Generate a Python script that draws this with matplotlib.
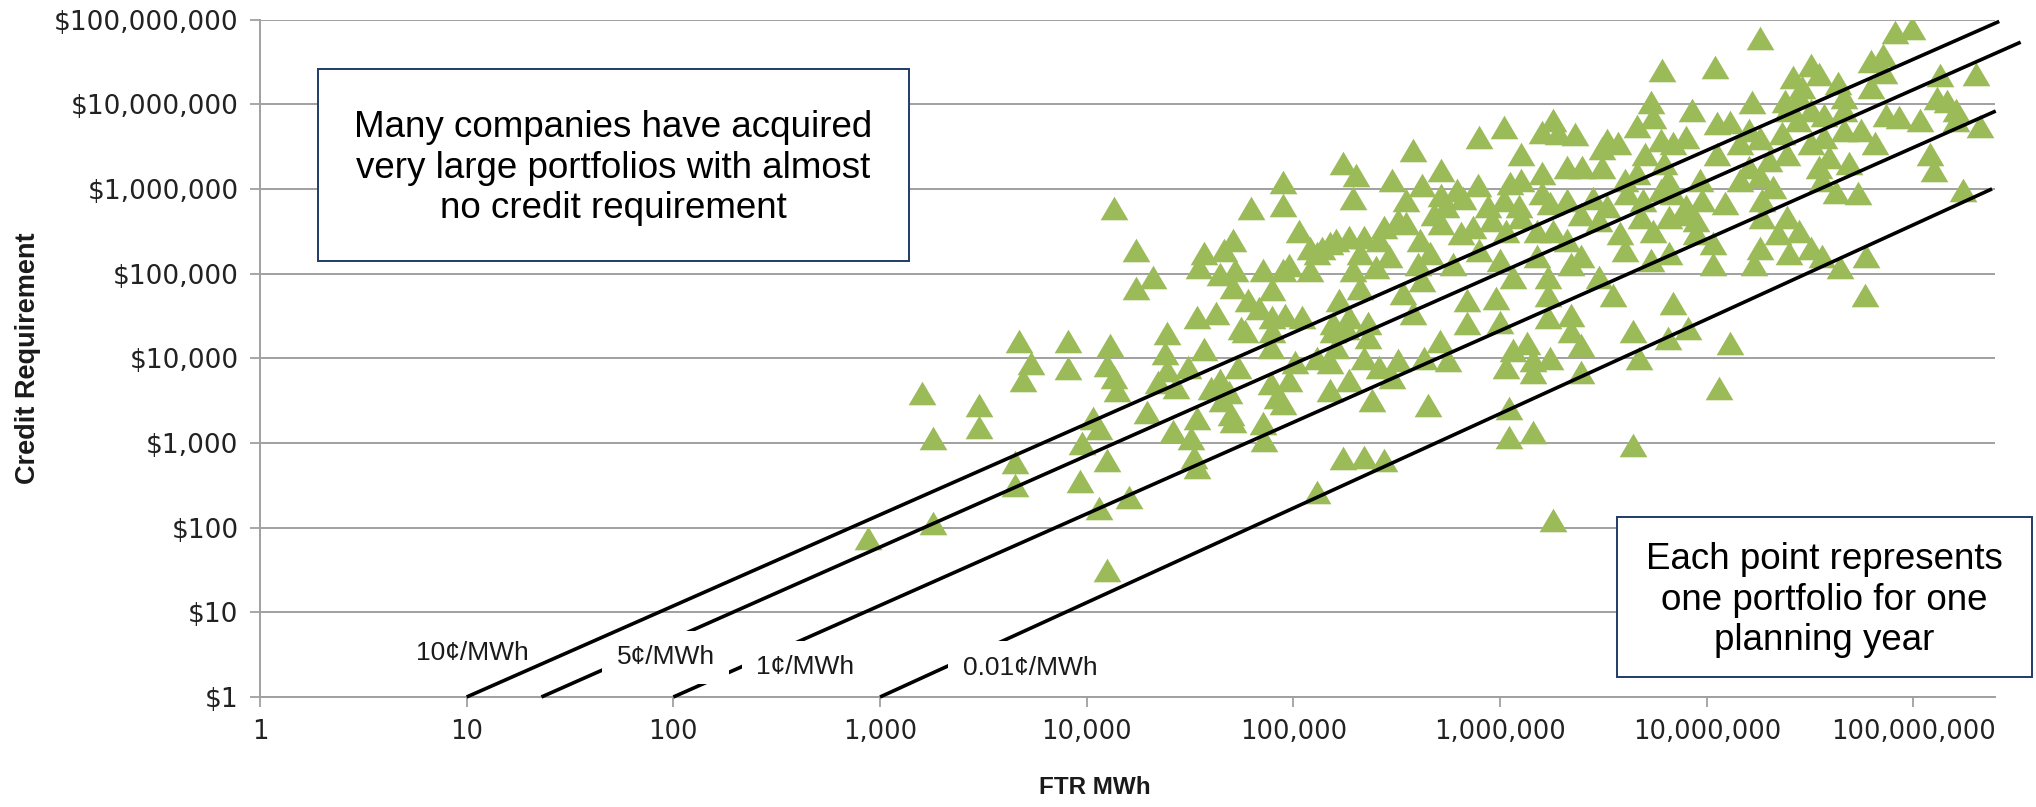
import numpy as np
import matplotlib.pyplot as plt
from matplotlib.patches import Rectangle
from matplotlib.ticker import FixedLocator, NullLocator

# each point = one portfolio for one planning year (FTR MWh, credit requirement $)
ftr_mwh = [
    # small portfolios (< 20,000 MWh)
    4.7e3, 8.1e3, 1.3e4, 5.4e3, 4.9e3, 8.1e3, 1.26e4, 1.35e4, 1.4e4, 1.6e3,
    3.0e3, 3.0e3, 1.8e3, 1.07e4, 1.15e4, 9.5e3, 4.5e3, 4.5e3, 1.26e4, 9.3e3,
    1.15e4, 1.6e4, 1.8e3, 870, 1.26e4, 1.35e4,
    # 20,000 - 500,000 MWh, upper part
    3.8e5, 1.74e5, 2.0e5, 3.0e5, 4.2e5, 8.9e4, 8.9e4, 1.95e5, 3.5e5, 6.2e4,
    1.07e5, 5.1e4, 4.6e4, 3.7e4, 3.5e4, 4.4e4, 1.74e4, 2.1e4, 1.74e4, 5.2e4,
    5.1e4, 7.1e4, 7.9e4, 8.9e4, 9.5e4, 1.2e5, 1.2e5, 1.38e5, 1.6e5, 1.86e5,
    2.2e5, 2.6e5, 2.75e5, 3.2e5, 3.5e5, 4.1e5, 2.9e5, 2.5e5, 1.95e5, 2.1e5,
    4.0e5, 1.66e5, 2.1e5, 2.45e4, 3.4e4, 4.2e4, 5.6e4, 6.0e4, 6.8e4, 7.9e4,
    9.1e4, 1.1e5, 1.55e5, 1.86e5, 2.3e5, 3.4e5, 3.8e5, 4.2e5, 1.5e5, 1.3e5,
    # 20,000 - 500,000 MWh, lower part
    2.4e4, 2.45e4, 2.2e4, 1.95e4, 2.6e4, 3.4e4, 3.2e4, 3.3e4, 3.4e4, 3.7e4,
    3.1e4, 2.7e4, 4.0e4, 4.4e4, 4.9e4, 4.5e4, 5.0e4, 5.1e4, 5.4e4, 5.8e4,
    7.1e4, 7.2e4, 7.8e4, 7.8e4, 8.3e4, 8.9e4, 9.5e4, 1.02e5, 7.9e4, 1.3e5,
    1.5e5, 1.5e5, 1.86e5, 2.2e5, 2.4e5, 2.6e5, 3.0e5, 3.2e5, 4.3e5, 4.5e5,
    1.74e5, 2.2e5, 2.75e5, 1.3e5, 1.55e5, 1.8e5, 2.3e5, 1.6e5,
    # 500,000 - 12,000,000 MWh, upper part
    6.1e6, 5.4e6, 8.5e6, 4.6e6, 5.5e6, 7.9e5, 1.05e6, 1.8e6, 1.6e6, 1.9e6,
    2.3e6, 1.26e6, 3.3e6, 3.7e6, 3.1e6, 5.0e6, 6.0e6, 6.9e6, 7.9e6, 5.2e5,
    5.2e5, 6.2e5, 7.8e5, 1.12e6, 1.26e6, 1.6e6, 2.1e6, 2.5e6, 3.1e6, 4.0e6,
    4.6e6, 6.2e6, 6.5e6, 9.3e6, 4.8e5, 5.5e5, 6.6e5, 8.7e5, 1.05e6, 1.23e6,
    1.6e6, 1.74e6, 2.1e6, 2.8e6, 3.3e6, 4.1e6, 4.9e6, 6.0e6, 6.9e6, 7.9e6,
    9.5e6, 5.2e5, 6.5e5, 7.4e5, 9.1e5, 1.07e6, 1.26e6, 1.5e6, 1.8e6, 2.1e6,
    2.45e6, 3.0e6, 3.8e6, 4.8e6, 5.5e6, 6.6e6, 7.8e6, 8.9e6, 4.6e5, 5.9e5,
    7.9e5, 1.0e6, 1.15e6, 1.5e6, 1.7e6, 2.2e6, 2.45e6, 3.0e6, 4.0e6, 5.4e6,
    6.6e6, 8.9e6,
    # 500,000 - 12,000,000 MWh, lower part
    6.9e5, 9.5e5, 1.7e6, 3.5e6, 6.9e6, 6.9e5, 1.0e6, 1.7e6, 2.2e6, 2.2e6,
    4.4e6, 8.1e6, 6.5e6, 5.1e5, 5.6e5, 1.15e6, 1.35e6, 1.45e6, 1.74e6, 2.45e6,
    1.07e6, 1.45e6, 2.45e6, 4.7e6, 1.1e6, 1.1e6, 1.45e6, 4.4e6, 1.8e6, 1.15e7,
    # largest portfolios (> 10,000,000 MWh)
    8.1e7, 9.8e7, 1.8e7, 1.1e7, 7.1e7, 6.2e7, 7.2e7, 3.2e7, 3.5e7, 2.6e7,
    2.9e7, 4.3e7, 6.2e7, 2.0e8, 1.35e8, 1.66e7, 2.4e7, 2.8e7, 4.6e7, 1.3e8,
    1.45e8, 7.4e7, 8.5e7, 1.07e8, 1.6e8, 2.1e8, 1.6e8, 1.12e7, 1.3e7, 1.6e7,
    2.45e7, 2.75e7, 3.2e7, 3.7e7, 4.6e7, 4.6e7, 5.6e7, 6.5e7, 1.12e7, 1.45e7,
    1.8e7, 2.3e7, 2.45e7, 3.2e7, 3.7e7, 3.9e7, 1.2e8, 1.26e8, 1.6e7, 2.0e7,
    4.9e7, 1.45e7, 1.8e7, 2.1e7, 3.5e7, 3.6e7, 4.2e7, 5.4e7, 1.74e8, 1.23e7,
    1.86e7, 2.45e7, 1.86e7, 1.07e7, 2.2e7, 2.8e7, 1.8e7, 2.5e7, 3.2e7, 3.6e7,
    1.7e7, 4.4e7, 5.9e7, 1.07e7, 5.8e7, 1.3e7,
]
credit_req = [
    # small portfolios (< 20,000 MWh)
    1.6e4, 1.6e4, 1.45e4, 8.7e3, 5.5e3, 7.6e3, 8.3e3, 6.0e3, 4.2e3, 3.9e3,
    2.8e3, 1.55e3, 1.15e3, 1.95e3, 1.5e3, 1.0e3, 590, 320, 630, 360,
    170, 230, 112, 76, 32, 5.9e5,
    # 20,000 - 500,000 MWh, upper part
    2.9e6, 2.0e6, 1.45e6, 1.26e6, 1.1e6, 1.2e6, 6.5e5, 7.9e5, 7.4e5, 5.9e5,
    3.2e5, 2.5e5, 1.9e5, 1.74e5, 1.2e5, 1.0e5, 1.9e5, 9.1e4, 6.8e4, 1.1e5,
    6.9e4, 1.1e5, 6.5e4, 1.1e5, 1.26e5, 1.1e5, 2.0e5, 2.0e5, 2.5e5, 2.7e5,
    2.7e5, 2.5e5, 3.5e5, 4.3e5, 4.0e5, 2.5e5, 1.6e5, 1.2e5, 1.1e5, 1.74e5,
    1.3e5, 4.9e4, 6.8e4, 2.0e4, 3.1e4, 3.4e4, 2.3e4, 4.9e4, 3.9e4, 3.1e4,
    3.2e4, 3.1e4, 2.6e4, 3.1e4, 2.6e4, 5.9e4, 3.4e4, 8.3e4, 2.3e5, 1.74e5,
    # 20,000 - 500,000 MWh, lower part
    1.15e4, 7.2e3, 5.2e3, 2.3e3, 1.4e3, 1.95e3, 1.15e3, 680, 520, 1.3e4,
    7.9e3, 4.6e3, 4.5e3, 5.5e3, 4.0e3, 3.2e3, 2.2e3, 1.8e3, 7.9e3, 2.1e4,
    1.7e3, 1.07e3, 1.35e4, 5.1e3, 3.5e3, 3.0e3, 5.5e3, 9.1e3, 2.1e4, 1.0e4,
    9.1e3, 4.2e3, 5.5e3, 1.0e4, 3.2e3, 7.9e3, 6.0e3, 9.5e3, 1.0e4, 2.8e3,
    660, 680, 630, 260, 2.1e4, 2.3e4, 1.8e4, 1.35e4,
    # 500,000 - 12,000,000 MWh, upper part
    2.5e7, 1.05e7, 8.5e6, 5.6e6, 7.1e6, 4.1e6, 5.4e6, 6.5e6, 4.7e6, 4.6e6,
    4.4e6, 2.6e6, 3.8e6, 3.5e6, 3.0e6, 2.6e6, 3.8e6, 3.5e6, 4.1e6, 1.66e6,
    8.5e5, 9.8e5, 1.1e6, 1.17e6, 1.26e6, 1.55e6, 1.8e6, 1.8e6, 1.8e6, 1.26e6,
    1.55e6, 2.0e6, 1.26e6, 1.26e6, 5.1e5, 6.2e5, 7.9e5, 6.2e5, 7.4e5, 6.2e5,
    8.9e5, 6.8e5, 7.4e5, 7.9e5, 6.2e5, 8.9e5, 7.4e5, 9.8e5, 8.9e5, 6.2e5,
    7.4e5, 4.0e5, 3.0e5, 3.5e5, 4.3e5, 3.2e5, 4.7e5, 3.2e5, 3.2e5, 2.5e5,
    5.1e5, 4.3e5, 3.0e5, 4.7e5, 3.2e5, 4.7e5, 5.1e5, 4.3e5, 1.74e5, 1.3e5,
    1.9e5, 1.45e5, 9.1e4, 1.6e5, 9.1e4, 1.3e5, 1.6e5, 9.1e4, 1.9e5, 1.45e5,
    1.74e5, 3.0e5,
    # 500,000 - 12,000,000 MWh, lower part
    4.9e4, 5.2e4, 5.6e4, 5.6e4, 4.5e4, 2.6e4, 2.7e4, 3.1e4, 3.2e4, 2.1e4,
    2.1e4, 2.3e4, 1.74e4, 1.6e4, 9.5e3, 1.26e4, 1.5e4, 9.5e3, 1.0e4, 1.45e4,
    7.9e3, 6.9e3, 6.9e3, 1.0e4, 2.6e3, 1.17e3, 1.35e3, 950, 123, 4.5e3,
    # largest portfolios (> 10,000,000 MWh)
    7.1e7, 7.9e7, 6.0e7, 2.75e7, 3.8e7, 3.2e7, 2.4e7, 2.9e7, 2.3e7, 2.1e7,
    1.6e7, 1.8e7, 1.6e7, 2.3e7, 2.2e7, 1.05e7, 1.1e7, 1.23e7, 1.23e7, 1.17e7,
    1.1e7, 7.4e6, 7.1e6, 6.5e6, 8.5e6, 5.6e6, 6.5e6, 6.0e6, 6.2e6, 4.9e6,
    8.5e6, 6.5e6, 8.5e6, 7.4e6, 8.5e6, 4.9e6, 4.9e6, 3.5e6, 2.6e6, 3.5e6,
    4.0e6, 4.6e6, 2.6e6, 3.5e6, 4.1e6, 2.4e6, 2.6e6, 1.66e6, 1.8e6, 2.2e6,
    2.0e6, 1.26e6, 1.4e6, 1.05e6, 1.8e6, 1.26e6, 9.1e5, 8.9e5, 9.8e5, 6.8e5,
    7.4e5, 4.7e5, 4.6e5, 2.3e5, 3.0e5, 3.2e5, 2.0e5, 1.74e5, 2.0e5, 1.6e5,
    1.3e5, 1.2e5, 1.6e5, 1.3e5, 5.6e4, 1.5e4,
]

# reference lines: credit requirement per MWh, drawn from $1 up to the right edge
rate_labels = ['10¢/MWh', '5¢/MWh', '1¢/MWh', '0.01¢/MWh']
rate_mwh_start = [10, 23, 100, 1000]
rate_mwh_end = [2.6e8, 3.3e8, 2.5e8, 2.4e8]
rate_credit_end = [9.5e7, 5.4e7, 8.3e6, 1.0e6]

tick_vals = [1, 10, 100, 1e3, 1e4, 1e5, 1e6, 1e7, 1e8]
x_tick_labels = ['1', '10', '100', '1,000', '10,000', '100,000',
                 '1,000,000', '10,000,000', '100,000,000']
y_tick_labels = [r'\$1', r'\$10', r'\$100', r'\$1,000', r'\$10,000', r'\$100,000',
                 r'\$1,000,000', r'\$10,000,000', r'\$100,000,000']

assert len(ftr_mwh) == len(credit_req)

W, H = 2036, 807
fig = plt.figure(figsize=(W / 100, H / 100), dpi=100)
ax = fig.add_axes([260 / W, 1 - 697 / H, (1995 - 260) / W, (697 - 19.5) / H])

ax.set_xscale('log')
ax.set_yscale('log')
ax.set_xlim(1, 2.48e8)
ax.set_ylim(1, 1e8)

grid_col = '#a0a0a0'
ax.xaxis.set_major_locator(FixedLocator(tick_vals))
ax.yaxis.set_major_locator(FixedLocator(tick_vals))
ax.xaxis.set_minor_locator(NullLocator())
ax.yaxis.set_minor_locator(NullLocator())
ax.set_xticklabels(x_tick_labels)
ax.set_yticklabels(y_tick_labels)
ax.tick_params(axis='both', direction='out', color=grid_col, width=1.3,
               length=7.5, labelcolor='#222222')
ax.tick_params(axis='x', pad=8, labelsize=18.5)
ax.tick_params(axis='y', pad=8, labelsize=19)
ax.grid(axis='y', color=grid_col, lw=1.4)
ax.set_axisbelow(True)
for s in ['top', 'right']:
    ax.spines[s].set_visible(False)
for s in ['left', 'bottom']:
    ax.spines[s].set_color(grid_col)
    ax.spines[s].set_linewidth(1.4)

tri = [(-1, -0.85), (1, -0.85), (0, 0.85)]
ax.scatter(ftr_mwh, credit_req, marker=tri, s=20 ** 2, color='#9bbb59',
           linewidths=0, zorder=3)

for i in range(len(rate_labels)):
    # the 10c line stays on top of the label boxes
    z = 6 if i == 0 else 4
    ax.plot([rate_mwh_start[i], rate_mwh_end[i]], [1, rate_credit_end[i]],
            color='black', lw=2.6, zorder=z, clip_on=False,
            solid_capstyle='butt')

lab_font = dict(family=['Liberation Sans', 'DejaVu Sans'], fontsize=19,
                color='#1a1a1a', ha='center', va='center')
ax.text(10.6, 3.3, rate_labels[0], zorder=5, **lab_font)
label_pos = [(92, 2.95), (436, 2.25), (5330, 2.2)]
for i in range(1, 4):
    ax.text(label_pos[i - 1][0], label_pos[i - 1][1], rate_labels[i], zorder=5,
            bbox=dict(boxstyle='square,pad=0.55', facecolor='white',
                      edgecolor='none'), **lab_font)

# axis titles
title_font = dict(family=['Liberation Sans', 'DejaVu Sans'],
                  fontweight='bold', color='#1a1a1a', ha='center', va='center')
fig.text(28 / W, 1 - 358 / H, 'Credit Requirement', rotation=90,
         fontsize=19.5, **title_font)
fig.text(1095 / W, 1 - 788 / H, 'FTR MWh', fontsize=17.5, **title_font)

# call-out boxes
box_font = dict(family=['Liberation Sans', 'DejaVu Sans'], fontsize=26.5,
                color='black', ha='center', va='center', linespacing=1.22,
                zorder=11)
boxes = [
    ((318, 69, 909, 261), (613, 168),
     'Many companies have acquired\nvery large portfolios with almost\nno credit requirement'),
    ((1617, 517, 2032, 677), (1824, 600),
     'Each point represents\none portfolio for one\nplanning year'),
]
for (x0, y0, x1, y1), (cx, cy), txt in boxes:
    fig.add_artist(Rectangle((x0 / W, 1 - y1 / H), (x1 - x0) / W, (y1 - y0) / H,
                             transform=fig.transFigure, facecolor='white',
                             edgecolor='#1f3b66', lw=1.4, zorder=10))
    fig.text(cx / W, 1 - cy / H, txt, **box_font)

fig.savefig('out.png', dpi=100)
